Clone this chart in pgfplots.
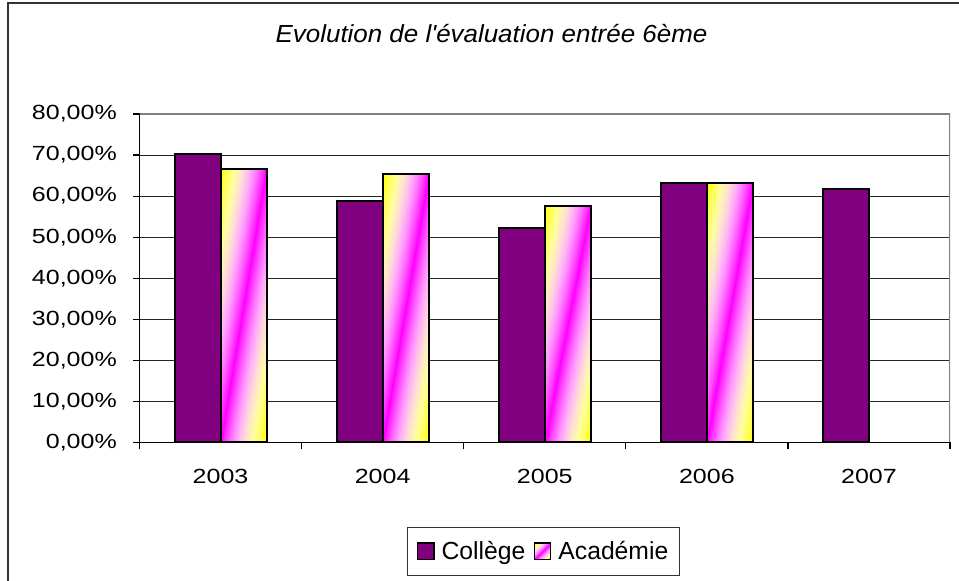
\documentclass[border=0pt]{standalone}
\usepackage{fontspec}
\setmainfont{Liberation Sans}
\newfontfamily\tickfont[FakeStretch=1.22]{Liberation Sans}
\newfontfamily\titlefont[FakeStretch=1.05]{Liberation Sans}
\usepackage{pgfplots}
\pgfplotsset{compat=1.18}
\definecolor{college}{RGB}{128,0,128}
\pgfdeclarefunctionalshading{acadf}{\pgfpointorigin}{\pgfpoint{100bp}{100bp}}{}{
  sub abs 50 div dup 1 gt {pop 1} if
  dup dup 1 exch sub mul 1.4 mul
  2 copy add 3 1 roll
  exch 1 exch sub add
  1 3 1 roll
}
\begin{document}
\begin{tikzpicture}[x=1bp,y=1bp]
\useasboundingbox (0,0) rectangle (959,581);
\clip (0,0) rectangle (959,581);
\draw[line width=2bp, black!80] (8,578) rectangle (1000,-50);
\node[anchor=base, font=\titlefont\itshape\fontsize{24.7bp}{30bp}\selectfont] at (491.5,538.3) {Evolution de l'évaluation entrée 6ème};
\begin{axis}[
  at={(139.5bp,138.5bp)}, anchor=south west,
  scale only axis, width=810.5bp, height=328.5bp,
  xmin=-0.5, xmax=4.5, ymin=0, ymax=80,
  axis lines=left, axis line style={-, black, line width=1.2bp},
  xtick={0,1,2,3,4}, xticklabels={2003,2004,2005,2006,2007},
  ytick={0,10,...,80},
  yticklabels={{0,00\%},{10,00\%},{20,00\%},{30,00\%},{40,00\%},{50,00\%},{60,00\%},{70,00\%},{80,00\%}},
  ymajorgrids, grid style={black!85, line width=0.9bp},
  tick style={black, line width=1.2bp},
  major tick length=6.5bp, tick align=outside,
  xtick style={draw=none},
  extra x ticks={-0.5,0.5,1.5,2.5,3.5,4.5}, extra x tick labels={},
  extra x tick style={xtick style={draw=black, line width=1.2bp}, major tick length=7bp, grid=none},
  ticklabel style={font=\tickfont\fontsize{20.5bp}{24bp}\selectfont, inner sep=0pt},
  yticklabel style={anchor=east, xshift=-16bp},
  xticklabel style={anchor=north, yshift=-20bp},
  legend image code/.code={\draw[#1,line width=1.2bp] (0bp,-8.3bp) rectangle (16.5bp,8.3bp);},
  legend columns=-1,
  legend style={at={(0.4985,-0.257)}, anchor=north, draw=black!80, line width=1bp,
    font=\fontsize{24.7bp}{29bp}\selectfont, inner xsep=9bp, inner ysep=12bp,
    /tikz/every odd column/.append style={column sep=5bp},
    /tikz/every even column/.append style={column sep=6.5bp}},
  legend cell align=left,
]
\addplot[ybar, bar width=0.284, bar shift=-0.142, fill=college, draw=black, line width=2bp]
  coordinates {(0,70.2) (1,58.9) (2,52.2) (3,63.3) (4,61.8)};
\addlegendentry{Collège}
\addlegendimage{shading=acadf, draw=black}
\addlegendentry{Académie\hspace{4bp}}
\addplot[ybar, bar width=0.284, bar shift=0.142, shading=acadf, draw=black, line width=2bp, forget plot]
  coordinates {(0,66.7)};
\addplot[ybar, bar width=0.284, bar shift=0.142, shading=acadf, draw=black, line width=2bp, forget plot]
  coordinates {(1,65.3)};
\addplot[ybar, bar width=0.284, bar shift=0.142, shading=acadf, draw=black, line width=2bp, forget plot]
  coordinates {(2,57.5)};
\addplot[ybar, bar width=0.284, bar shift=0.142, shading=acadf, draw=black, line width=2bp, forget plot]
  coordinates {(3,63.3)};
\draw[gray, line width=1.5bp] (rel axis cs:0,1) -- (rel axis cs:1,1) -- (rel axis cs:1,0);
\end{axis}
\end{tikzpicture}
\end{document}
